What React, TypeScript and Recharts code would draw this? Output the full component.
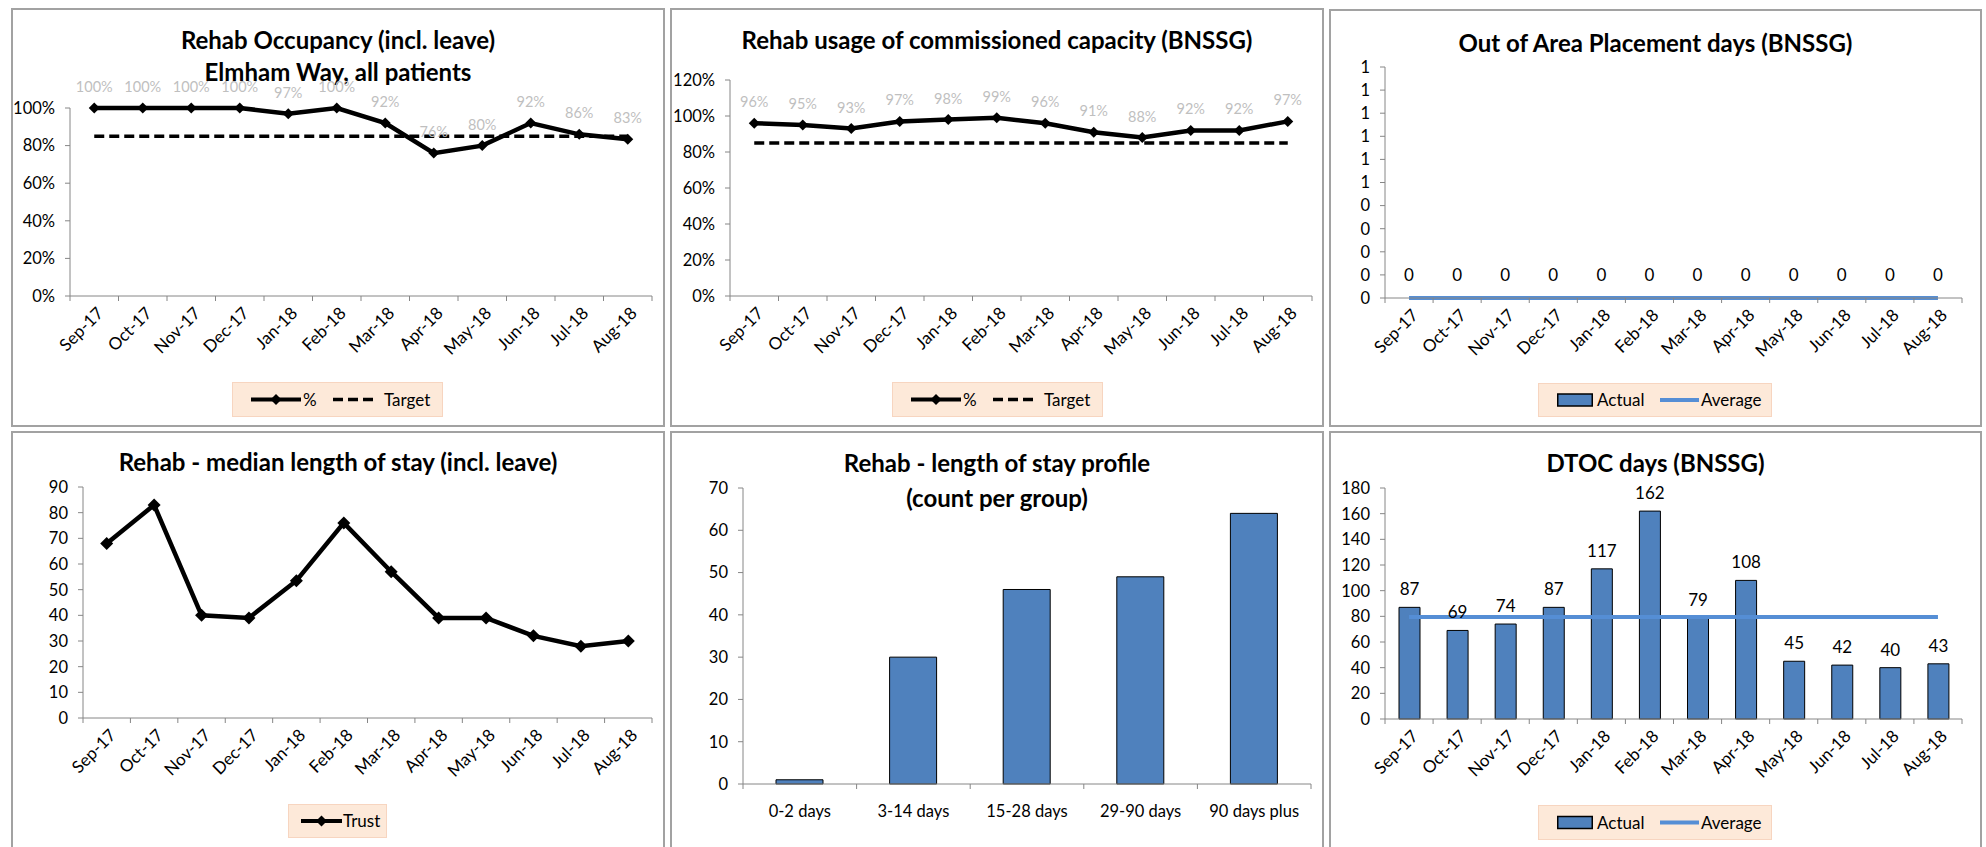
import React from 'react';
import { ComposedChart, Line, Bar, XAxis, YAxis, LabelList } from 'recharts';

// ---- data ----
const MONTHS = ['Sep-17', 'Oct-17', 'Nov-17', 'Dec-17', 'Jan-18', 'Feb-18', 'Mar-18', 'Apr-18', 'May-18', 'Jun-18', 'Jul-18', 'Aug-18'];

const OCC_PCT = [1.0, 1.0, 1.0, 1.0, 0.97, 1.0, 0.92, 0.76, 0.8, 0.92, 0.86, 0.834];
const OCC_TARGET = [0.85, 0.85, 0.85, 0.85, 0.85, 0.85, 0.85, 0.85, 0.85, 0.85, 0.85, 0.85];
const OCC_TICKS = [0, 0.2, 0.4, 0.6, 0.8, 1.0];

const USE_PCT = [0.96, 0.95, 0.93, 0.97, 0.98, 0.99, 0.96, 0.91, 0.88, 0.92, 0.92, 0.97];
const USE_TARGET = [0.85, 0.85, 0.85, 0.85, 0.85, 0.85, 0.85, 0.85, 0.85, 0.85, 0.85, 0.85];
const USE_TICKS = [0, 0.2, 0.4, 0.6, 0.8, 1.0, 1.2];

const OAP_ACTUAL = [0, 0, 0, 0, 0, 0, 0, 0, 0, 0, 0, 0];
const OAP_AVERAGE = [0, 0, 0, 0, 0, 0, 0, 0, 0, 0, 0, 0];
const OAP_TICKS = [0, 0.1, 0.2, 0.3, 0.4, 0.5, 0.6, 0.7, 0.8, 0.9, 1.0];

const LOS_TRUST = [68, 83, 40, 39, 53.5, 76, 57, 39, 39, 32, 28, 30];
const LOS_TICKS = [0, 10, 20, 30, 40, 50, 60, 70, 80, 90];

const PROFILE_GROUPS = ['0-2 days', '3-14 days', '15-28 days', '29-90 days', '90 days plus'];
const PROFILE_COUNTS = [1, 30, 46, 49, 64];
const PROFILE_TICKS = [0, 10, 20, 30, 40, 50, 60, 70];

const DTOC_ACTUAL = [87, 69, 74, 87, 117, 162, 79, 108, 45, 42, 40, 43];
const DTOC_AVERAGE = [79.4, 79.4, 79.4, 79.4, 79.4, 79.4, 79.4, 79.4, 79.4, 79.4, 79.4, 79.4];
const DTOC_TICKS = [0, 20, 40, 60, 80, 100, 120, 140, 160, 180];

const occData = MONTHS.map((m, i) => ({ m, pct: OCC_PCT[i], target: OCC_TARGET[i] }));
const useData = MONTHS.map((m, i) => ({ m, pct: USE_PCT[i], target: USE_TARGET[i] }));
const oapData = MONTHS.map((m, i) => ({ m, actual: OAP_ACTUAL[i], average: OAP_AVERAGE[i] }));
const losData = MONTHS.map((m, i) => ({ m, trust: LOS_TRUST[i] }));
const profileData = PROFILE_GROUPS.map((g, i) => ({ g, count: PROFILE_COUNTS[i] }));
const dtocData = MONTHS.map((m, i) => ({ m, actual: DTOC_ACTUAL[i], average: DTOC_AVERAGE[i] }));

// ---- look ----
const FONT = 'Lato, "Open Sans", sans-serif';
const AXIS = '#868686';
const BAR_BLUE = '#4f81bd';
const LINE_BLUE = '#558ed5';
const Y_W = 40;
const X_H = 60;

type Box = { left: number; top: number; w: number; h: number };
type Plot = { x0: number; x1: number; yTop: number; yZero: number };

const P1: Box = { left: 11, top: 8, w: 654, h: 419 };
const P2: Box = { left: 670, top: 8, w: 654, h: 419 };
const P3: Box = { left: 1329, top: 9, w: 653, h: 418 };
const P4: Box = { left: 11, top: 431, w: 654, h: 440 };
const P5: Box = { left: 670, top: 431, w: 654, h: 440 };
const P6: Box = { left: 1329, top: 431, w: 653, h: 440 };

const A1: Plot = { x0: 70, x1: 652, yTop: 108, yZero: 296 };
const A2: Plot = { x0: 730, x1: 1312, yTop: 80, yZero: 296 };
const A3: Plot = { x0: 1385, x1: 1962, yTop: 67, yZero: 298 };
const A4: Plot = { x0: 83, x1: 652, yTop: 487, yZero: 718 };
const A5: Plot = { x0: 743, x1: 1311, yTop: 488, yZero: 784 };
const A6: Plot = { x0: 1385, x1: 1962, yTop: 488, yZero: 719 };

const margins = (p: Box, a: Plot) => ({
  top: a.yTop - p.top,
  bottom: p.top + p.h - a.yZero - X_H,
  left: a.x0 - p.left - Y_W,
  right: p.left + p.w - a.x1,
});

// half a category band, so line points sit in the middle of each month like Excel
const halfBand = (a: Plot, n: number) => {
  const h = (a.x1 - a.x0) / n / 2;
  return { left: h, right: h };
};

const makeTick = (a: Plot, count: number, rotate: boolean, size = 17) => (props: any) => {
  const { x, y, payload, index } = props;
  const bw = (a.x1 - a.x0) / count;
  return (
    <g>
      <line x1={x - bw / 2} y1={y} x2={x - bw / 2} y2={y + 5} stroke={AXIS} />
      {index === count - 1 && <line x1={x + bw / 2} y1={y} x2={x + bw / 2} y2={y + 5} stroke={AXIS} />}
      {rotate ? (
        <text transform={`translate(${x + 6},${y + 14}) rotate(-45)`} textAnchor="end" dy="0.35em" fill="#000" fontSize={size}>
          {payload.value}
        </text>
      ) : (
        <text x={x} y={y + 27} textAnchor="middle" dy="0.35em" fill="#000" fontSize={16.5}>
          {payload.value}
        </text>
      )}
    </g>
  );
};

const diamond = (r: number) => (props: any) => {
  const { cx, cy, index } = props;
  if (cx == null || cy == null) return <g key={index} />;
  return <path key={index} d={`M${cx},${cy - r}L${cx + r},${cy}L${cx},${cy + r}L${cx - r},${cy}Z`} fill="#000" />;
};

const pctFmt = (v: any) => `${Math.round(Number(v) * 100)}%`;

const yAxisProps = {
  width: Y_W,
  axisLine: { stroke: AXIS },
  tickLine: { stroke: AXIS },
  tickSize: 5,
  tickMargin: 10,
  interval: 0 as const,
  tick: { fill: '#000', fontSize: 16.5 },
};

const xAxisProps = {
  height: X_H,
  axisLine: { stroke: AXIS },
  tickLine: false,
  tickSize: 0,
  tickMargin: 0,
  interval: 0 as const,
};

const Frame: React.FC<{ p: Box }> = ({ p }) => (
  <div style={{ position: 'absolute', left: p.left, top: p.top, width: p.w, height: p.h, border: '2px solid #a2a2a2', boxSizing: 'border-box' }} />
);

const Title: React.FC<{ p: Box; top: number; lh: number; lines: string[] }> = ({ p, top, lh, lines }) => (
  <div style={{ position: 'absolute', left: p.left, top, width: p.w, textAlign: 'center', fontWeight: 700, fontSize: 24, lineHeight: `${lh}px`, color: '#000' }}>
    {lines.map((l) => (
      <div key={l}>{l}</div>
    ))}
  </div>
);

type Item = { kind: 'line' | 'dash' | 'diamond' | 'rect' | 'blue'; x: number; w: number; label: string; tx: number };

const LegendBox: React.FC<{ left: number; top: number; w: number; h: number; items: Item[] }> = ({ left, top, w, h, items }) => (
  <div style={{ position: 'absolute', left, top, width: w, height: h, background: '#fde9d9', border: '1px solid #f7d5c0', boxSizing: 'border-box' }}>
    {items.map((it) => (
      <React.Fragment key={it.label}>
        <svg style={{ position: 'absolute', left: it.x, top: 0 }} width={it.w} height={h - 2}>
          {it.kind === 'rect' && <rect x={0.75} y={(h - 2) / 2 - 6} width={it.w - 1.5} height={12} fill={BAR_BLUE} stroke="#000" strokeWidth={1.5} />}
          {it.kind === 'blue' && <line x1={0} x2={it.w} y1={(h - 2) / 2} y2={(h - 2) / 2} stroke={LINE_BLUE} strokeWidth={4} />}
          {it.kind === 'dash' && <line x1={0} x2={it.w} y1={(h - 2) / 2} y2={(h - 2) / 2} stroke="#000" strokeWidth={3.5} strokeDasharray="10 5" />}
          {it.kind === 'diamond' && (
            <>
              <line x1={0} x2={it.w} y1={(h - 2) / 2} y2={(h - 2) / 2} stroke="#000" strokeWidth={4} />
              <path d={`M${it.w / 2},${(h - 2) / 2 - 5.5}L${it.w / 2 + 5.5},${(h - 2) / 2}L${it.w / 2},${(h - 2) / 2 + 5.5}L${it.w / 2 - 5.5},${(h - 2) / 2}Z`} fill="#000" />
            </>
          )}
        </svg>
        <div style={{ position: 'absolute', left: it.tx, top: 0, height: h - 2, lineHeight: `${h - 2}px`, fontSize: 17, color: '#000' }}>{it.label}</div>
      </React.Fragment>
    ))}
  </div>
);

const pctItems: Item[] = [
  { kind: 'diamond', x: 18, w: 50, label: '%', tx: 70 },
  { kind: 'dash', x: 100, w: 44, label: 'Target', tx: 151 },
];
const barItems: Item[] = [
  { kind: 'rect', x: 18, w: 36, label: 'Actual', tx: 58 },
  { kind: 'blue', x: 121, w: 39, label: 'Average', tx: 162 },
];

const at = (p: Box): React.CSSProperties => ({ position: 'absolute', left: p.left, top: p.top });

export default function App() {
  return (
    <div style={{ position: 'absolute', left: 0, top: 0, width: 1986, height: 847, background: '#fff', overflow: 'hidden', fontFamily: FONT }}>
      {/* Rehab occupancy */}
      <Frame p={P1} />
      <Title p={P1} top={24} lh={32} lines={['Rehab Occupancy (incl. leave)', 'Elmham Way, all patients']} />
      <div style={at(P1)}>
        <ComposedChart width={P1.w} height={P1.h} data={occData} margin={margins(P1, A1)}>
          <XAxis dataKey="m" {...xAxisProps} padding={halfBand(A1, 12)} tick={makeTick(A1, 12, true)} />
          <YAxis {...yAxisProps} domain={[0, 1]} ticks={OCC_TICKS} tickFormatter={pctFmt} />
          <Line dataKey="pct" stroke="#000" strokeWidth={4.5} dot={diamond(5.5)} isAnimationActive={false}>
            <LabelList dataKey="pct" position="top" offset={16} formatter={pctFmt} fill="#bfbfbf" fontSize={14.5} />
          </Line>
          <Line dataKey="target" stroke="#000" strokeWidth={3.5} strokeDasharray="10 5" dot={false} isAnimationActive={false} />
        </ComposedChart>
      </div>
      <LegendBox left={232} top={382} w={211} h={35} items={pctItems} />

      {/* Rehab usage */}
      <Frame p={P2} />
      <Title p={P2} top={24} lh={32} lines={['Rehab usage of commissioned capacity (BNSSG)']} />
      <div style={at(P2)}>
        <ComposedChart width={P2.w} height={P2.h} data={useData} margin={margins(P2, A2)}>
          <XAxis dataKey="m" {...xAxisProps} padding={halfBand(A2, 12)} tick={makeTick(A2, 12, true)} />
          <YAxis {...yAxisProps} domain={[0, 1.2]} ticks={USE_TICKS} tickFormatter={pctFmt} />
          <Line dataKey="pct" stroke="#000" strokeWidth={4.5} dot={diamond(5.5)} isAnimationActive={false}>
            <LabelList dataKey="pct" position="top" offset={16} formatter={pctFmt} fill="#bfbfbf" fontSize={14.5} />
          </Line>
          <Line dataKey="target" stroke="#000" strokeWidth={3.5} strokeDasharray="10 5" dot={false} isAnimationActive={false} />
        </ComposedChart>
      </div>
      <LegendBox left={892} top={382} w={211} h={35} items={pctItems} />

      {/* Out of area placements */}
      <Frame p={P3} />
      <Title p={P3} top={27} lh={32} lines={['Out of Area Placement days (BNSSG)']} />
      <div style={at(P3)}>
        <ComposedChart width={P3.w} height={P3.h} data={oapData} margin={margins(P3, A3)}>
          <XAxis dataKey="m" {...xAxisProps} tick={makeTick(A3, 12, true)} />
          <YAxis {...yAxisProps} domain={[0, 1]} ticks={OAP_TICKS} tickFormatter={(v: any) => String(Math.round(Number(v)))} />
          <Bar dataKey="actual" barSize={21} fill={BAR_BLUE} stroke="#000" strokeWidth={1} isAnimationActive={false} />
          <Line dataKey="average" stroke={LINE_BLUE} strokeWidth={4} dot={false} isAnimationActive={false} />
          {/* zero-height bars get no labels, so the values ride on an unstroked line */}
          <Line dataKey="actual" stroke="none" dot={false} legendType="none" isAnimationActive={false}>
            <LabelList dataKey="actual" position="top" offset={17} fill="#000" fontSize={17} />
          </Line>
        </ComposedChart>
      </div>
      <LegendBox left={1538} top={383} w={234} h={34} items={barItems} />

      {/* Median length of stay */}
      <Frame p={P4} />
      <Title p={P4} top={446} lh={32} lines={['Rehab - median length of stay (incl. leave)']} />
      <div style={at(P4)}>
        <ComposedChart width={P4.w} height={P4.h} data={losData} margin={margins(P4, A4)}>
          <XAxis dataKey="m" {...xAxisProps} padding={halfBand(A4, 12)} tick={makeTick(A4, 12, true)} />
          <YAxis {...yAxisProps} domain={[0, 90]} ticks={LOS_TICKS} />
          <Line dataKey="trust" stroke="#000" strokeWidth={4.5} dot={diamond(6.5)} isAnimationActive={false} />
        </ComposedChart>
      </div>
      <LegendBox
        left={288}
        top={804}
        w={99}
        h={34}
        items={[{ kind: 'diamond', x: 12, w: 41, label: 'Trust', tx: 54 }]}
      />

      {/* Length of stay profile */}
      <Frame p={P5} />
      <Title p={P5} top={445} lh={35} lines={['Rehab - length of stay profile', '(count per group)']} />
      <div style={at(P5)}>
        <ComposedChart width={P5.w} height={P5.h} data={profileData} margin={margins(P5, A5)}>
          <XAxis dataKey="g" {...xAxisProps} tick={makeTick(A5, 5, false)} />
          <YAxis {...yAxisProps} domain={[0, 70]} ticks={PROFILE_TICKS} />
          <Bar dataKey="count" barSize={47} fill={BAR_BLUE} stroke="#000" strokeWidth={1} isAnimationActive={false} />
        </ComposedChart>
      </div>

      {/* DTOC */}
      <Frame p={P6} />
      <Title p={P6} top={447} lh={32} lines={['DTOC days (BNSSG)']} />
      <div style={at(P6)}>
        <ComposedChart width={P6.w} height={P6.h} data={dtocData} margin={margins(P6, A6)}>
          <XAxis dataKey="m" {...xAxisProps} tick={makeTick(A6, 12, true)} />
          <YAxis {...yAxisProps} domain={[0, 180]} ticks={DTOC_TICKS} />
          <Bar dataKey="actual" barSize={21} fill={BAR_BLUE} stroke="#000" strokeWidth={1} isAnimationActive={false}>
            <LabelList dataKey="actual" position="top" offset={12} fill="#000" fontSize={17} />
          </Bar>
          <Line dataKey="average" stroke={LINE_BLUE} strokeWidth={4} dot={false} isAnimationActive={false} />
        </ComposedChart>
      </div>
      <LegendBox left={1538} top={805} w={234} h={35} items={barItems} />
    </div>
  );
}
